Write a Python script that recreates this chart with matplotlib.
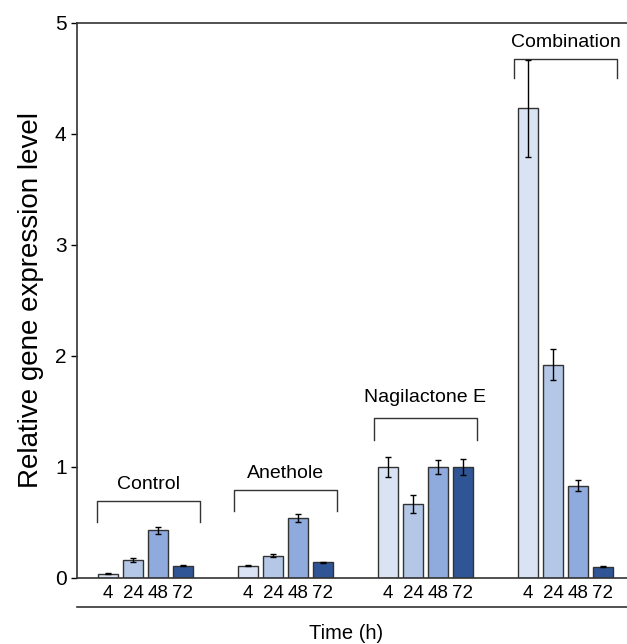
import matplotlib
matplotlib.use('Agg')
import matplotlib.pyplot as plt
import numpy as np

plt.rcParams['font.family'] = ['Liberation Sans', 'DejaVu Sans']

groups = ['Control', 'Anethole', 'Nagilactone E', 'Combination']
times = ['4', '24', '48', '72']
colors = ['#dae3f3', '#b4c7e7', '#8faadc', '#2f5597']

# mean values per group, in the order 4, 24, 48, 72 h
control = [0.04, 0.16, 0.43, 0.11]
anethole = [0.11, 0.20, 0.54, 0.14]
nagilactone = [1.00, 0.67, 1.00, 1.00]
combination = [4.23, 1.92, 0.83, 0.10]

control_err = [0.005, 0.02, 0.03, 0.005]
anethole_err = [0.005, 0.015, 0.04, 0.008]
nagilactone_err = [0.09, 0.08, 0.06, 0.07]
combination_err = [0.44, 0.14, 0.05, 0.005]

# bracket top / bottom and label height for each group
bracket_top = [0.69, 0.79, 1.44, 4.68]
bracket_bottom = [0.50, 0.60, 1.24, 4.50]
label_y = [0.84, 0.94, 1.63, 4.82]

values = [control, anethole, nagilactone, combination]
errors = [control_err, anethole_err, nagilactone_err, combination_err]

fig = plt.figure(figsize=(6.27, 6.44), dpi=100)
ax = fig.add_axes([0.1228, 0.1025, 0.8772, 0.8618])

group_step = 5.6
xticks = []
xlabels = []
for g in range(len(groups)):
    x = g * group_step + np.arange(len(times))
    ax.bar(x, values[g], width=0.8, color=colors, edgecolor='#333333',
           linewidth=1.0, zorder=2)
    ax.errorbar(x, values[g], yerr=errors[g], fmt='none', ecolor='black',
                elinewidth=1.0, capsize=2.5, capthick=1.0, zorder=3)
    xticks.extend(x)
    xlabels.extend(times)

    x0 = x[0] - 0.55
    x1 = x[-1] + 0.55
    if g == 0:
        x0, x1 = x[0] - 0.44, x[-1] + 0.68
    ax.plot([x0, x0, x1, x1],
            [bracket_bottom[g], bracket_top[g], bracket_top[g], bracket_bottom[g]],
            color='#333333', lw=1.0)
    ax.text((x0 + x1) / 2, label_y[g], groups[g], ha='center', va='center',
            fontsize=14)

ax.set_xlim(-1.24, -1.24 + 22)
ax.set_ylim(0, 5)
ax.set_yticks([0, 1, 2, 3, 4, 5])
ax.set_xticks(xticks)
ax.set_xticklabels(xlabels, fontsize=13.5)
ax.tick_params(axis='x', length=0, pad=5)
ax.tick_params(axis='y', labelsize=15, length=4, direction='out', width=1)
ax.spines['right'].set_visible(False)
for s in ['left', 'top', 'bottom']:
    ax.spines[s].set_color('#333333')
    ax.spines[s].set_linewidth(1.2)

ax.set_ylabel('Relative gene expression level', fontsize=20, labelpad=8)

# line under the hour labels
ax.plot([0, 1], [-0.052, -0.052], transform=ax.transAxes, color='#333333',
        lw=1.2, clip_on=False)
ax.text(0.49, -0.1, 'Time (h)', transform=ax.transAxes, ha='center',
        va='center', fontsize=14.5)

fig.savefig('out.png', dpi=100)
